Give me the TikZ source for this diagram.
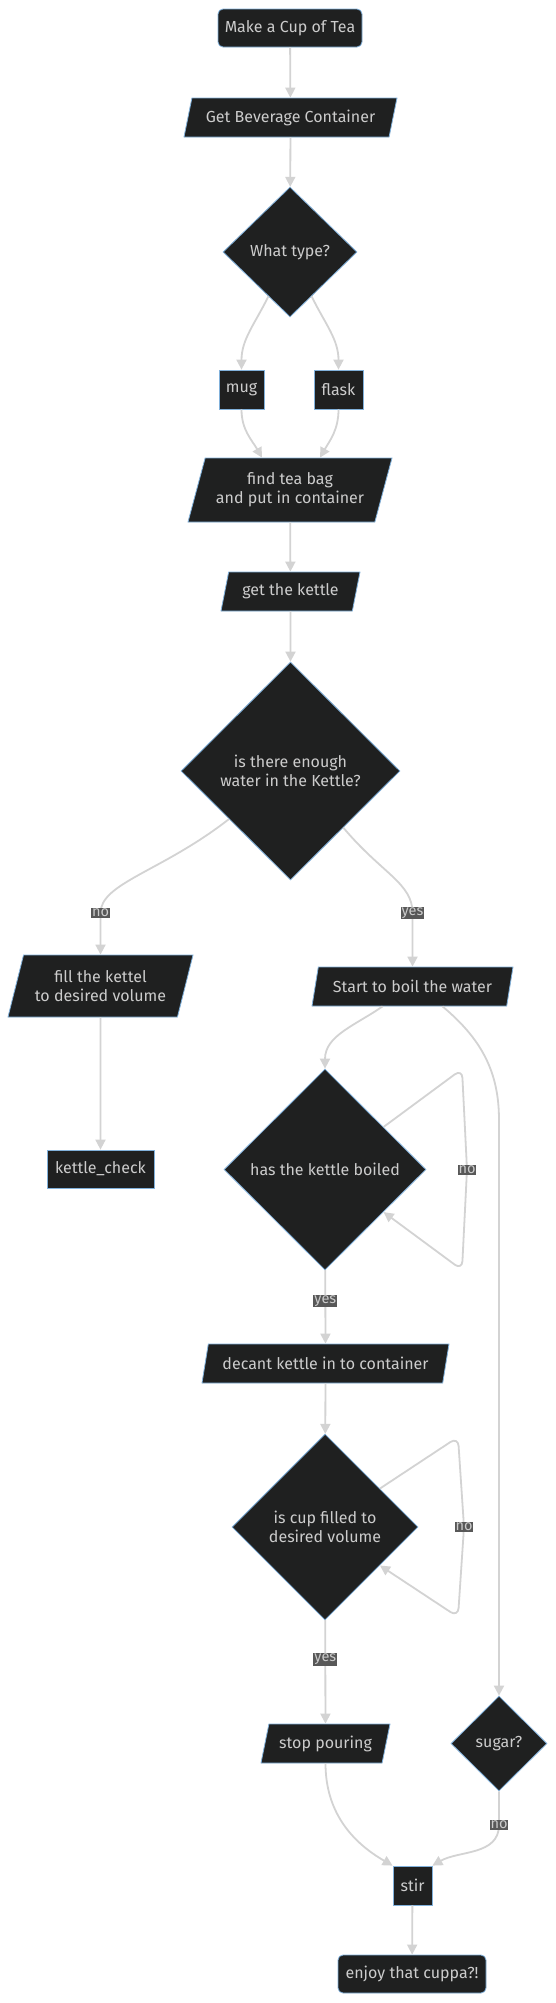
\documentclass[tikz,border=0pt]{standalone}
\usepackage{fontspec}
\setmainfont{Fira Sans}
\usetikzlibrary{shapes.geometric,arrows.meta,calc}
\definecolor{nodefill}{HTML}{1F2020}
\definecolor{nodeborder}{HTML}{81B1DB}
\definecolor{txt}{HTML}{CCCCCC}
\definecolor{edgecol}{HTML}{D3D3D3}
\definecolor{lblbg}{HTML}{585858}
\begin{document}
\begin{tikzpicture}[x=1pt,y=1pt,
 base/.style={fill=nodefill, draw=nodeborder, line width=0.8pt, text=txt,
   font=\fontsize{16}{19}\selectfont, inner sep=0pt, align=center},
 term/.style={base, rectangle, rounded corners=5pt, minimum height=38pt},
 proc/.style={base, rectangle, minimum height=39pt},
 io/.style={base, trapezium, trapezium left angle=63.5, trapezium right angle=116.5,
   trapezium stretches body, minimum height=39pt},
 dec/.style={base, diamond},
 conn/.style={draw=edgecol, line width=1.8pt, -{Triangle[length=10pt,width=10pt]}},
 lbl/.style={fill=lblbg, text=txt, sharp corners, font=\fontsize{14.5}{16}\selectfont, inner sep=1pt}
]
\fill[white] (0,0) rectangle (556,-2003);
\useasboundingbox (0,0) rectangle (556,-2003);

\node[term, minimum width=144pt] (start) at (290,-28) {Make a Cup of Tea};
\node[io, minimum width=213pt] (get) at (290.5,-117.5) {Get Beverage Container};
\node[dec, minimum width=134pt, minimum height=130pt] (type) at (290,-252) {What type?};
\node[proc, minimum width=45pt] (mug) at (241.5,-389.5) {mug};
\node[proc, minimum width=49pt] (flask) at (338.5,-389.5) {flask};
\node[io, minimum width=204pt, minimum height=64pt] (find) at (290,-490) {find tea bag\\ and put in container};
\node[io, minimum width=139pt] (kettle) at (290.5,-591.5) {get the kettle};
\node[dec, minimum width=219pt, minimum height=218pt] (water) at (290.5,-771) {is there enough\\ water in the Kettle?};
\node[io, minimum width=185pt, minimum height=62pt] (fill) at (100.5,-986) {fill the kettel\\ to desired volume};
\node[proc, minimum width=107pt, minimum height=38pt] (check) at (100.5,-1169) {kettle\_check};
\node[io, minimum width=201pt] (boil) at (412.5,-986.5) {Start to boil the water};
\node[dec, minimum width=202pt, minimum height=201pt] (hb) at (325,-1169.5) {has the kettle boiled};
\node[io, minimum width=247pt] (decant) at (325.5,-1363.5) {decant kettle in to container};
\node[dec, minimum width=186pt, minimum height=186pt] (cup) at (325,-1527) {is cup filled to\\ desired volume};
\node[io, minimum width=129pt] (stop) at (325.5,-1743.5) {stop pouring};
\node[dec, minimum width=96pt, minimum height=95pt] (sugar) at (499,-1743.5) {sugar?};
\node[proc, minimum width=39pt] (stir) at (412.5,-1885.5) {stir};
\node[term, minimum width=148pt] (enjoy) at (412,-1974) {enjoy that cuppa?!};

\draw[conn] (start) -- (get);
\draw[conn] (get) -- (type);
\draw[conn] (type.-116) to[out=-116,in=90] (mug.north);
\draw[conn] (type.-64) to[out=-64,in=90] (flask.north);
\draw[conn] (mug.south) to[out=-90,in=120] ($(find.north)+(-28,0)$);
\draw[conn] (flask.south) to[out=-90,in=60] ($(find.north)+(30,0)$);
\draw[conn] (find) -- (kettle);
\draw[conn] (kettle) -- (water);
\draw[conn] (water.-142) .. controls +(-142:85) and +(0,30) .. (fill.north |- 0,-913) node[lbl]{no} -- (fill.north);
\draw[conn] (water.-47) .. controls +(-50:60) and +(0,30) .. (boil.north |- 0,-913) node[lbl]{yes} -- (boil.north);
\draw[conn] (fill) -- (check);
\draw[conn] ($(boil.south)+(-30,0)$) to[out=-145,in=90] (hb.north);
\draw[conn, rounded corners=9pt] (hb.36) -- (462,-1069) -- (467,-1169.5) node[lbl]{no} -- (462,-1270) -- (hb.-36);
\draw[conn] (hb) -- node[lbl, pos=0.42]{yes} (decant);
\draw[conn] (decant) -- (cup);
\draw[conn, rounded corners=9pt] (cup.35) -- (458,-1437) -- (464,-1527) node[lbl]{no} -- (458,-1617) -- (cup.-35);
\draw[conn] (cup) -- node[lbl, pos=0.38]{yes} (stop);
\draw[conn] ($(boil.south)+(30,0)$) to[out=-40,in=90] (sugar.north |- 0,-1120) -- (sugar.north);
\draw[conn] (stop.south) to[out=-90,in=150] (stir.north west);
\draw[conn] (sugar.south) -- (sugar.south |- 0,-1825) node[lbl]{no} to[out=-90,in=30] (stir.north east);
\draw[conn] (stir) -- (enjoy);
\end{tikzpicture}
\end{document}
